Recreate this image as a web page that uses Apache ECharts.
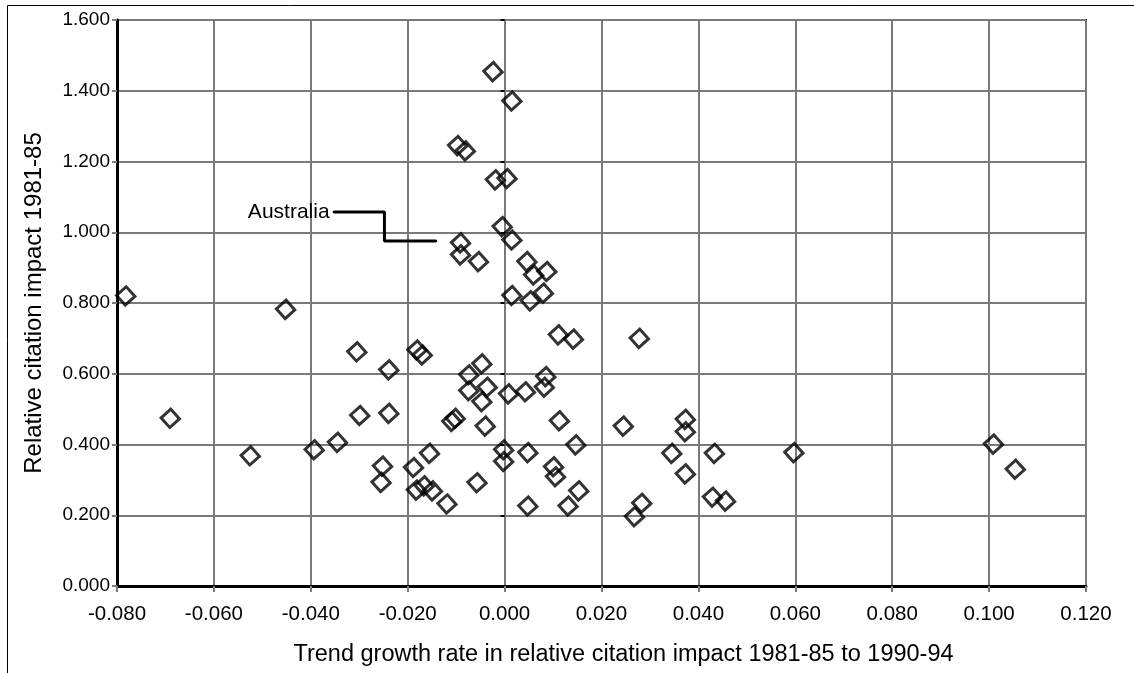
<!DOCTYPE html>
<html>
<head>
<meta charset="utf-8">
<script src="https://cdn.jsdelivr.net/npm/echarts@6/dist/echarts.min.js"></script>
<style>
  html, body { margin: 0; padding: 0; background: #fff; }
  #chart { width: 1134px; height: 673px; }
</style>
</head>
<body>
<div id="chart"></div>
<script>
// Trend growth rate in relative citation impact (1981-85 to 1990-94), one entry per country
const growthRate = [
  -0.0024, 0.0015, -0.0097, -0.0081, -0.0019, 0.0005, -0.0005, 0.0015, -0.0091, -0.0091,
  -0.0054, 0.0046, 0.0060, 0.0087, 0.0080, 0.0015, 0.0053, 0.0111, 0.0142, -0.0782,
  -0.0452, -0.0305, -0.0239, -0.0181, -0.0170, -0.0690, -0.0299, -0.0239, -0.0525, -0.0393,
  -0.0345, -0.0252, -0.0255, -0.0188, -0.0182, -0.0166, -0.0149, -0.0155, -0.0119, -0.0057,
  -0.0047, -0.0074, -0.0036, -0.0074, -0.0047, 0.0008, 0.0043, 0.0085, 0.0082, 0.0278,
  -0.0102, -0.0109, -0.0040, 0.0113, 0.0245, 0.0373, 0.0373, -0.0002, -0.0002, 0.0048,
  0.0101, 0.0105, 0.0147, 0.0153, 0.0048, 0.0131, 0.0283, 0.0268, 0.0345, 0.0373,
  0.0433, 0.0429, 0.0456, 0.0597, 0.1009, 0.1054
];

// Relative citation impact 1981-85, same order as growthRate
const citationImpact = [
  1.454, 1.371, 1.245, 1.230, 1.148, 1.152, 1.016, 0.978, 0.970, 0.936,
  0.917, 0.917, 0.879, 0.889, 0.828, 0.821, 0.806, 0.710, 0.698, 0.820,
  0.782, 0.662, 0.611, 0.667, 0.653, 0.474, 0.482, 0.488, 0.368, 0.385,
  0.406, 0.339, 0.293, 0.335, 0.271, 0.283, 0.269, 0.375, 0.232, 0.292,
  0.628, 0.597, 0.562, 0.552, 0.521, 0.543, 0.549, 0.592, 0.562, 0.700,
  0.474, 0.465, 0.452, 0.467, 0.452, 0.471, 0.436, 0.385, 0.352, 0.377,
  0.337, 0.309, 0.399, 0.269, 0.226, 0.226, 0.234, 0.196, 0.375, 0.317,
  0.375, 0.251, 0.240, 0.377, 0.401, 0.330
];

// Axis ranges
const xRange = { min: -0.08, max: 0.12, step: 0.02 };
const yRange = { min: 0, max: 1.6, step: 0.2 };

// Callout for Australia: [growth rate, impact] corners of the leader line
const australiaLabel = 'Australia';
const australiaLeader = [[-0.0353, 1.057], [-0.0248, 1.057], [-0.0248, 0.975], [-0.0141, 0.975]];

const points = growthRate.map((g, i) => [g, citationImpact[i]]);
const fmt3 = v => (Math.abs(v) < 1e-9 ? 0 : v).toFixed(3);
const FONT = 'Liberation Sans, Arial, sans-serif';
const GRID_GRAY = '#7a7a7a';

const chart = echarts.init(document.getElementById('chart'), null, { renderer: 'canvas' });

chart.setOption({
  backgroundColor: '#ffffff',
  animation: false,
  textStyle: { fontFamily: FONT, color: '#000' },
  graphic: [{
    // outer frame of the figure
    type: 'rect',
    shape: { x: 7.5, y: 5.5, width: 1200, height: 700 },
    style: { fill: 'none', stroke: '#000', lineWidth: 1 },
    silent: true
  }],
  grid: {
    left: 117, right: 48, top: 20, bottom: 87,
    show: true, borderColor: '#000', borderWidth: 2, backgroundColor: 'transparent'
  },
  xAxis: {
    type: 'value',
    min: xRange.min, max: xRange.max, interval: xRange.step,
    name: 'Trend growth rate in relative citation impact 1981-85 to 1990-94',
    nameLocation: 'middle', nameGap: 57,
    nameTextStyle: { fontSize: 23.5, fontFamily: FONT, color: '#000', padding: [0, 0, 0, 44] },
    axisLine: { show: true, onZero: false, lineStyle: { color: '#000', width: 3 } },
    axisTick: { show: true, inside: false, length: 6, lineStyle: { color: GRID_GRAY, width: 2 } },
    axisLabel: { formatter: fmt3, fontSize: 20.5, fontFamily: FONT, color: '#000', margin: 18 },
    splitLine: { show: true, lineStyle: { color: GRID_GRAY, width: 2 } }
  },
  yAxis: [{
    type: 'value',
    min: yRange.min, max: yRange.max, interval: yRange.step,
    name: 'Relative citation impact 1981-85',
    nameLocation: 'middle', nameGap: 71,
    nameTextStyle: { fontSize: 24, fontFamily: FONT, color: '#000' },
    axisLine: { show: true, onZero: false, lineStyle: { color: '#000', width: 3 } },
    axisTick: { show: true, inside: false, length: 5, lineStyle: { color: GRID_GRAY, width: 2 } },
    axisLabel: { formatter: fmt3, fontSize: 19, fontFamily: FONT, color: '#000', margin: 7 },
    splitLine: { show: true, lineStyle: { color: GRID_GRAY, width: 2 } }
  }, {
    // small black tick marks along the zero growth line
    type: 'value',
    position: 'left',
    min: yRange.min, max: yRange.max, interval: yRange.step,
    axisLine: { show: false, onZero: true },
    axisTick: { show: true, inside: false, length: 4, lineStyle: { color: '#000', width: 2 } },
    axisLabel: { show: false },
    splitLine: { show: false }
  }],
  series: [{
    type: 'line',
    data: australiaLeader.map((p, i) => i === 0 ? {
      value: p,
      label: {
        show: true, formatter: australiaLabel, position: 'left', distance: 3,
        fontSize: 21, fontFamily: FONT, color: '#000'
      }
    } : p),
    showSymbol: true, symbol: 'circle', symbolSize: 2,
    itemStyle: { color: '#000' },
    lineStyle: { color: '#000', width: 3 },
    label: { show: false },
    silent: true, z: 3
  }, {
    type: 'scatter',
    data: points,
    symbol: 'rect', symbolSize: 13, symbolRotate: 42,
    itemStyle: { color: 'rgba(255,255,255,0)', borderColor: '#000', borderWidth: 3 },
    z: 5
  }]
});
</script>
</body>
</html>
